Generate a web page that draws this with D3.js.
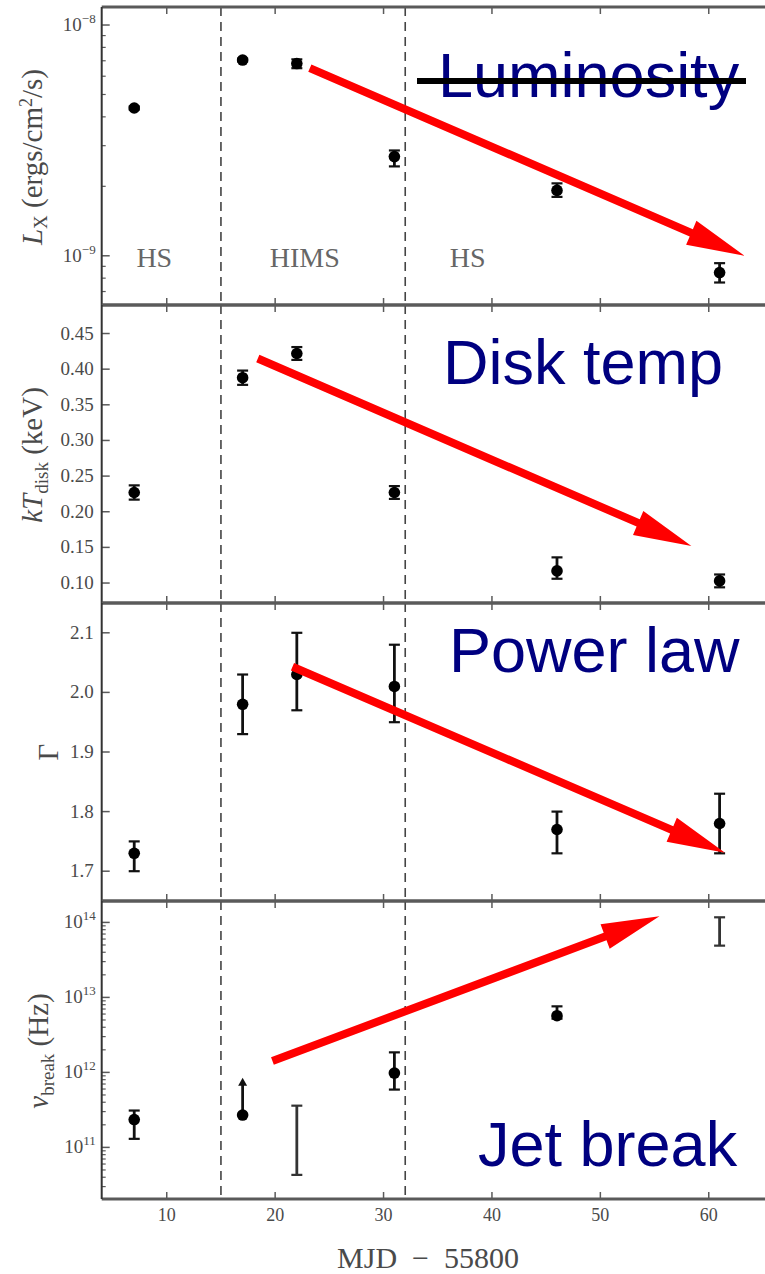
<!DOCTYPE html>
<html><head><meta charset="utf-8">
<script src="https://cdn.jsdelivr.net/npm/d3@7"></script>
<style>html,body{margin:0;padding:0;background:#fff;} svg{display:block;}</style>
</head><body><svg id="c" width="765" height="1274"></svg>
<script>
// ---------------- DATA ----------------
const mjd = [7, 17, 22, 31, 46, 61];
const lumX   = [4.37e-9, 7.05e-9, 6.81e-9, 2.69e-9, 1.92e-9, 8.46e-10];
const lumLo  = [4.30e-9, 6.95e-9, 6.50e-9, 2.44e-9, 1.80e-9, 7.66e-10];
const lumHi  = [4.44e-9, 7.15e-9, 7.10e-9, 2.86e-9, 2.06e-9, 9.29e-10];
const kTdisk = [0.227, 0.388, 0.422, 0.227, 0.117, 0.103];
const kTLo   = [0.217, 0.378, 0.413, 0.218, 0.106, 0.094];
const kTHi   = [0.237, 0.398, 0.431, 0.236, 0.136, 0.112];
const gamma   = [1.73, 1.98, 2.03, 2.01, 1.77, 1.78];
const gammaLo = [1.70, 1.93, 1.97, 1.95, 1.73, 1.73];
const gammaHi = [1.75, 2.03, 2.10, 2.08, 1.80, 1.83];
const nuBreak = [2.35e11, 2.7e11, null, 9.8e11, 5.7e12, null];
const nuLo    = [1.3e11, null, 4.3e10, 5.9e11, 5.2e12, 4.9e13];
const nuHi    = [3.1e11, null, 3.6e11, 1.85e12, 7.6e12, 1.17e14];
const nuLimit = [null, 8.5e11, null, null, null, null];   // lower limits (arrow up)
const transitions = [15, 32];
const stateNames = ["HS", "HIMS", "HS"];
const stateX = [7.2, 19.5, 36.1];
const stateY = 8.9e-10;
const xTicks = [10, 20, 30, 40, 50, 60];
const lumTicks = [1e-9, 1e-8];
const kTTicks = [0.10, 0.15, 0.20, 0.25, 0.30, 0.35, 0.40, 0.45];
const gammaTicks = [1.7, 1.8, 1.9, 2.0, 2.1];
const nuTicks = [1e11, 1e12, 1e13, 1e14];
const trendLabels = ["Luminosity", "Disk temp", "Power law", "Jet break"];
const trendFrom = [[23.2, 6.5e-9], [18.4, 0.415], [21.6, 2.043], [19.75, 1.42e12]];
const trendTo   = [[63.3, 1.0e-9], [58.4, 0.152], [61.5, 1.731], [55.45, 1.21e14]];

// ---------------- LAYOUT ----------------
const serif = "'Liberation Serif','DejaVu Serif',serif";
const sans = "'Liberation Sans',Arial,'DejaVu Sans',sans-serif";
const axisCol = "#5a5a5a", textCol = "#4a4a4a";
const top0 = 7, ph = 298, xL = 101.7;
const x = d3.scaleLinear().domain([4, 66]).range([xL, 773.8]);
const svg = d3.select('#c');

const panels = [
  {log: true, domain: [6.12e-10, 1.197e-8], ticks: lumTicks, y: lumX, lo: lumLo, hi: lumHi,
   exp: {1e-9: "−9", 1e-8: "−8"}},
  {log: false, domain: [0.072, 0.49], ticks: kTTicks, fmt: d3.format(".2f"), y: kTdisk, lo: kTLo, hi: kTHi},
  {log: false, domain: [1.65, 2.15], ticks: gammaTicks, fmt: d3.format(".1f"), y: gamma, lo: gammaLo, hi: gammaHi},
  {log: true, domain: [2.05e10, 1.93e14], ticks: nuTicks, y: nuBreak, lo: nuLo, hi: nuHi,
   exp: {1e11: "11", 1e12: "12", 1e13: "13", 1e14: "14"}}
];
const labelLayout = [
  {x: 438, y: 97}, {x: 443, y: 384}, {x: 449, y: 672}, {x: 478, y: 1166}
];

panels.forEach((p, i) => {
  const y0 = top0 + ph * i, y1 = y0 + ph;
  const y = (p.log ? d3.scaleLog() : d3.scaleLinear()).domain(p.domain).range([y1, y0]);
  p.scale = y;
  const g = svg.append('g');

  // dashed transitions
  g.selectAll('line.tr').data(transitions).join('line')
    .attr('x1', d => x(d)).attr('x2', d => x(d)).attr('y1', y0).attr('y2', y1)
    .attr('stroke', '#444').attr('stroke-width', 1.6).attr('stroke-dasharray', '9,6');

  // y ticks
  g.selectAll('line.yt').data(p.ticks).join('line')
    .attr('x1', xL).attr('x2', xL + 8).attr('y1', d => y(d)).attr('y2', d => y(d))
    .attr('stroke', axisCol).attr('stroke-width', 1.5);
  if (p.log) {
    const minors = [];
    const lo = Math.floor(Math.log10(p.domain[0])), hi = Math.ceil(Math.log10(p.domain[1]));
    for (let e = lo; e <= hi; e++) for (let k = 2; k <= 9; k++) {
      const v = k * Math.pow(10, e);
      if (v > p.domain[0] && v < p.domain[1]) minors.push(v);
    }
    g.selectAll('line.ym').data(minors).join('line')
      .attr('x1', xL).attr('x2', xL + 4).attr('y1', d => y(d)).attr('y2', d => y(d))
      .attr('stroke', axisCol).attr('stroke-width', 1.2);
    const t = g.selectAll('text.yl').data(p.ticks).join('text')
      .attr('x', xL - 6).attr('y', d => y(d) + 6).attr('text-anchor', 'end')
      .attr('font-family', serif).attr('font-size', 19).attr('fill', textCol);
    t.append('tspan').text('10');
    t.append('tspan').attr('dy', -8).attr('font-size', 13).text(d => p.exp[d]);
  } else {
    g.selectAll('text.yl').data(p.ticks).join('text')
      .attr('x', xL - 8).attr('y', d => y(d) + 6).attr('text-anchor', 'end')
      .attr('font-family', serif).attr('font-size', 19).attr('fill', textCol)
      .text(d => p.fmt(d));
  }

  // x ticks top & bottom
  g.selectAll('line.xt').data(xTicks).join('line')
    .attr('x1', d => x(d)).attr('x2', d => x(d)).attr('y1', y0).attr('y2', y0 + 7)
    .attr('stroke', axisCol).attr('stroke-width', 1.5);
  g.selectAll('line.xb').data(xTicks).join('line')
    .attr('x1', d => x(d)).attr('x2', d => x(d)).attr('y1', y1).attr('y2', y1 - 7)
    .attr('stroke', axisCol).attr('stroke-width', 1.5);

  // spines
  g.append('line').attr('x1', xL).attr('x2', 780).attr('y1', y0).attr('y2', y0)
    .attr('stroke', axisCol).attr('stroke-width', 2.8);
  g.append('line').attr('x1', xL).attr('x2', 780).attr('y1', y1).attr('y2', y1)
    .attr('stroke', axisCol).attr('stroke-width', 2.8);
  g.append('line').attr('x1', xL).attr('x2', xL).attr('y1', y0).attr('y2', y1)
    .attr('stroke', '#333').attr('stroke-width', 2);

  // error bars
  const idx = d3.range(mjd.length).filter(k => p.lo[k] != null && p.hi[k] != null);
  const hasPt = k => p.y[k] != null;
  g.selectAll('line.eb').data(idx).join('line')
    .attr('x1', k => x(mjd[k])).attr('x2', k => x(mjd[k]))
    .attr('y1', k => y(p.lo[k])).attr('y2', k => y(p.hi[k]))
    .attr('stroke', k => hasPt(k) ? '#111' : '#333').attr('stroke-width', 2.8);
  ['lo', 'hi'].forEach(key => {
    g.selectAll('line.cap' + key).data(idx).join('line')
      .attr('x1', k => x(mjd[k]) - 5.5).attr('x2', k => x(mjd[k]) + 5.5)
      .attr('y1', k => y(p[key][k])).attr('y2', k => y(p[key][k]))
      .attr('stroke', k => hasPt(k) ? '#111' : '#333').attr('stroke-width', 2.2);
  });

  // lower-limit arrows (nu panel)
  if (i === 3) {
    const lim = d3.range(mjd.length).filter(k => nuLimit[k] != null);
    g.selectAll('line.lim').data(lim).join('line')
      .attr('x1', k => x(mjd[k])).attr('x2', k => x(mjd[k]))
      .attr('y1', k => y(nuBreak[k])).attr('y2', k => y(nuLimit[k]) + 6)
      .attr('stroke', '#111').attr('stroke-width', 2.8);
    g.selectAll('path.limh').data(lim).join('path')
      .attr('d', k => {
        const cx = x(mjd[k]), cy = y(nuLimit[k]);
        return `M${cx},${cy} L${cx - 4.5},${cy + 8} L${cx + 4.5},${cy + 8} Z`;
      }).attr('fill', '#111');
  }

  // points
  const pts = d3.range(mjd.length).filter(hasPt);
  g.selectAll('circle.pt').data(pts).join('circle')
    .attr('cx', k => x(mjd[k])).attr('cy', k => y(p.y[k])).attr('r', 5.8).attr('fill', '#000');
});

// state labels (panel 1)
svg.selectAll('text.state').data(stateNames).join('text')
  .attr('x', (d, k) => x(stateX[k])).attr('y', panels[0].scale(stateY))
  .attr('font-family', serif).attr('font-size', 28).attr('fill', '#666')
  .text(d => d);

// y-axis titles
function ytitle(cx, cy, parts) {
  const t = svg.append('text').attr('transform', `translate(${cx},${cy}) rotate(-90)`)
    .attr('text-anchor', 'middle').attr('font-family', serif).attr('font-size', 29).attr('fill', textCol);
  parts.forEach(pt => {
    const s = t.append('tspan').text(pt.t);
    if (pt.it) s.attr('font-style', 'italic');
    if (pt.dy) s.attr('dy', pt.dy);
    if (pt.fs) s.attr('font-size', pt.fs);
  });
}
ytitle(42, 157, [{t: 'L', it: 1}, {t: 'X', dy: 5, fs: 19}, {t: ' (ergs/cm', dy: -5}, {t: '2', dy: -10, fs: 18}, {t: '/s)', dy: 10}]);
ytitle(42, 455, [{t: 'kT', it: 1}, {t: 'disk', dy: 6, fs: 19}, {t: ' (keV)', dy: -6}]);
ytitle(58, 752, [{t: 'Γ'}]);
ytitle(48, 1051, [{t: 'ν', it: 1}, {t: 'break', dy: 6, fs: 19}, {t: ' (Hz)', dy: -6}]);

// x tick labels & title
const yb = top0 + 4 * ph;
svg.selectAll('text.xl').data(xTicks).join('text')
  .attr('x', d => x(d)).attr('y', yb + 22).attr('text-anchor', 'middle')
  .attr('font-family', serif).attr('font-size', 18).attr('fill', textCol).text(d => d);
svg.append('text').attr('x', 428).attr('y', yb + 69).attr('text-anchor', 'middle')
  .attr('font-family', serif).attr('font-size', 30).attr('fill', textCol).attr('xml:space', 'preserve')
  .text('MJD  −  55800');

// trend arrows
function arrow(p0, p1) {
  const dx = p1[0] - p0[0], dy = p1[1] - p0[1], L = Math.hypot(dx, dy);
  const ux = dx / L, uy = dy / L, nx = -uy, ny = ux;
  const hl = 58, hw = 13, sw = 4;
  const bx = p1[0] - ux * hl, by = p1[1] - uy * hl;
  const pts = [
    [p0[0] + nx * sw, p0[1] + ny * sw], [bx + nx * sw, by + ny * sw], [bx + nx * hw, by + ny * hw],
    p1, [bx - nx * hw, by - ny * hw], [bx - nx * sw, by - ny * sw], [p0[0] - nx * sw, p0[1] - ny * sw]
  ];
  svg.append('path').attr('d', 'M' + pts.map(q => q.join(',')).join('L') + 'Z').attr('fill', '#ff0000');
}
trendFrom.forEach((f, k) => {
  const s = panels[k].scale;
  arrow([x(f[0]), s(f[1])], [x(trendTo[k][0]), s(trendTo[k][1])]);
});

// trend labels
svg.selectAll('text.trend').data(trendLabels).join('text')
  .attr('x', (d, k) => labelLayout[k].x).attr('y', (d, k) => labelLayout[k].y)
  .attr('font-family', sans).attr('font-size', 63).attr('fill', '#000080').text(d => d);
// strike-through on Luminosity
svg.append('line').attr('x1', 417).attr('x2', 746).attr('y1', 81).attr('y2', 81)
  .attr('stroke', '#000').attr('stroke-width', 6);
</script></body></html>
